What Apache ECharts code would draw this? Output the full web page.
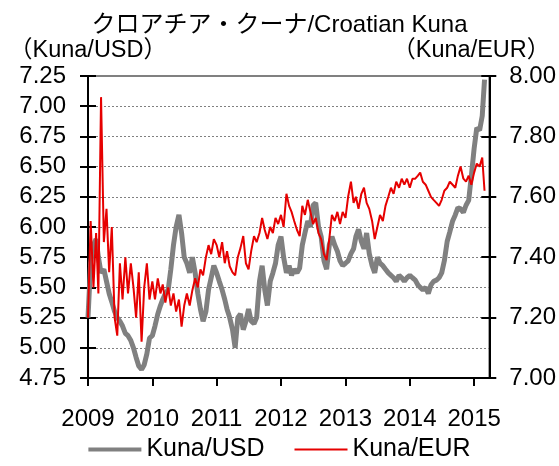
<!DOCTYPE html>
<html>
<head>
<meta charset="utf-8">
<script src="https://cdn.jsdelivr.net/npm/echarts@6/dist/echarts.min.js"></script>
<style>
  html, body { margin: 0; padding: 0; background: #fff; }
  #chart { width: 559px; height: 466px; }
</style>
</head>
<body>
<div id="chart"></div>
<script>
// half-monthly readings (1st and 16th of each month), Jan 2009 - Mar 2015
const kunaUsd = [
  // 2009
  5.25, 5.70, 5.85, 5.90, 5.75, 5.62, 5.65, 5.55, 5.45, 5.38, 5.30, 5.25,
  5.22, 5.18, 5.12, 5.10, 5.06, 5.00, 4.92, 4.85, 4.82, 4.86, 4.95, 5.08,
  // 2010
  5.10, 5.18, 5.28, 5.35, 5.40, 5.45, 5.48, 5.65, 5.85, 6.00, 6.10, 5.95,
  5.75, 5.70, 5.62, 5.75, 5.62, 5.45, 5.32, 5.22, 5.30, 5.48, 5.58, 5.68,
  // 2011
  5.62, 5.55, 5.48, 5.40, 5.32, 5.25, 5.15, 5.00, 5.25, 5.28, 5.15, 5.22,
  5.32, 5.22, 5.20, 5.25, 5.55, 5.68, 5.48, 5.35, 5.55, 5.62, 5.70, 5.85,
  // 2012
  5.92, 5.75, 5.62, 5.68, 5.60, 5.65, 5.62, 5.66, 5.85, 5.95, 6.05, 6.00,
  6.18, 6.20, 6.00, 5.92, 5.72, 5.65, 5.85, 5.92, 5.85, 5.80, 5.72, 5.68,
  // 2013
  5.70, 5.72, 5.78, 5.82, 5.92, 5.98, 5.88, 5.82, 5.95, 5.78, 5.68, 5.62,
  5.75, 5.70, 5.68, 5.65, 5.62, 5.60, 5.58, 5.55, 5.60, 5.58, 5.55, 5.58,
  // 2014
  5.60, 5.58, 5.56, 5.52, 5.50, 5.48, 5.50, 5.45, 5.52, 5.55, 5.56, 5.58,
  5.62, 5.72, 5.88, 5.96, 6.05, 6.10, 6.16, 6.15, 6.12, 6.18, 6.22, 6.42,
  // 2015
  6.65, 6.82, 6.80, 6.92, 7.22
];

const kunaEur = [
  // 2009
  7.20, 7.52, 7.30, 7.48, 7.28, 7.93, 7.45, 7.56, 7.35, 7.50, 7.20, 7.14,
  7.38, 7.26, 7.40, 7.28, 7.38, 7.30, 7.20, 7.35, 7.12, 7.30, 7.38, 7.26,
  // 2010
  7.32, 7.26, 7.33, 7.28, 7.31, 7.25, 7.30, 7.24, 7.28, 7.22, 7.26, 7.17,
  7.24, 7.28, 7.24, 7.29, 7.33, 7.30, 7.36, 7.34, 7.40, 7.44, 7.41, 7.46,
  // 2011
  7.44, 7.40, 7.45, 7.38, 7.42, 7.37, 7.35, 7.34, 7.40, 7.43, 7.47, 7.38,
  7.36, 7.42, 7.47, 7.45, 7.48, 7.53, 7.49, 7.46, 7.50, 7.48, 7.53, 7.51,
  // 2012
  7.54, 7.50, 7.61, 7.57, 7.55, 7.52, 7.49, 7.47, 7.57, 7.54, 7.59, 7.55,
  7.51, 7.53, 7.48, 7.46, 7.41, 7.39, 7.46, 7.54, 7.52, 7.55, 7.51, 7.55,
  // 2013
  7.53, 7.60, 7.65, 7.58, 7.60, 7.56, 7.61, 7.63, 7.58, 7.56, 7.52, 7.46,
  7.50, 7.54, 7.52, 7.57, 7.60, 7.63, 7.61, 7.65, 7.63, 7.66, 7.64, 7.66,
  // 2014
  7.63, 7.66, 7.66, 7.67, 7.68, 7.65, 7.64, 7.62, 7.60, 7.59, 7.58, 7.57,
  7.59, 7.62, 7.63, 7.65, 7.64, 7.63, 7.67, 7.70, 7.66, 7.65, 7.67, 7.64,
  // 2015
  7.68, 7.71, 7.70, 7.73, 7.62
];

const seriesNames = ['Kuna/USD', 'Kuna/EUR'];
const titleText = 'クロアチア・クーナ/Croatian Kuna';

// sample dates: 1st and 16th of every month from Jan 2009
function sampleDates(n) {
  const out = [];
  for (let i = 0; i < n; i++) {
    const y = 2009 + Math.floor(i / 24);
    const m = Math.floor((i % 24) / 2) + 1;
    const d = i % 2 ? 16 : 1;
    out.push(y + '-' + String(m).padStart(2, '0') + '-' + String(d).padStart(2, '0'));
  }
  return out;
}
const dates = sampleDates(kunaUsd.length);

const FONT = "'Liberation Sans', 'Noto Sans CJK JP', sans-serif";
const GREY = '#808080';
const RED = '#e60000';

const chart = echarts.init(document.getElementById('chart'));
chart.setOption({
  animation: false,
  textStyle: { fontFamily: FONT, color: '#000' },
  title: {
    text: titleText,
    left: 'center',
    top: 8,
    textStyle: { fontFamily: FONT, fontSize: 24, fontWeight: 'normal', color: '#000' }
  },
  legend: {
    top: 432,
    left: 'center',
    itemWidth: 53,
    itemHeight: 4,
    itemGap: 30,
    textStyle: { fontFamily: FONT, fontSize: 25, color: '#000' },
    data: [
      { name: seriesNames[0], icon: 'rect', itemStyle: { color: GREY } },
      // thin red bar centred in the same 53x4 box
      { name: seriesNames[1], icon: 'path://M0,0h0.01v4h-0.01zM0,1h53v2h-53z', itemStyle: { color: RED } }
    ]
  },
  grid: {
    left: 88, right: 68, top: 76, bottom: 88,
    show: true, borderColor: GREY, borderWidth: 2
  },
  xAxis: {
    type: 'time',
    min: '2009-01-01',
    max: '2015-03-28',
    minInterval: 360 * 24 * 3600 * 1000,
    splitNumber: 6,
    axisLine: { lineStyle: { color: '#000', width: 2 } },
    axisTick: { show: true, length: 8, lineStyle: { color: '#000', width: 2 } },
    axisLabel: {
      fontSize: 24, color: '#000', margin: 29, fontFamily: FONT,
      formatter: function (v) {
        const d = new Date(v);
        return d.getMonth() === 0 && d.getDate() === 1 ? String(d.getFullYear()) : '';
      }
    },
    splitLine: { show: false }
  },
  yAxis: [
    {
      type: 'value', position: 'left', min: 4.75, max: 7.25, interval: 0.25,
      name: '（Kuna/USD）', nameLocation: 'end', nameGap: 14,
      nameTextStyle: { fontFamily: FONT, fontSize: 23.5, color: '#000', align: 'center' },
      axisLine: { show: true, lineStyle: { color: '#000', width: 2 } },
      axisTick: { show: true, length: 8, lineStyle: { color: '#000', width: 2 } },
      axisLabel: { fontSize: 24, color: '#000', margin: 22, formatter: v => v.toFixed(2) },
      splitLine: { show: true, lineStyle: { color: GREY, width: 1, type: [2, 2] } }
    },
    {
      type: 'value', position: 'right', min: 7.0, max: 8.0, interval: 0.2,
      name: '（Kuna/EUR）', nameLocation: 'end', nameGap: 14,
      nameTextStyle: { fontFamily: FONT, fontSize: 23.5, color: '#000', align: 'center', padding: [0, 36, 0, 0] },
      axisLine: { show: true, lineStyle: { color: '#000', width: 2 } },
      axisTick: { show: true, length: 7, lineStyle: { color: '#000', width: 2 } },
      axisLabel: { fontSize: 24, color: '#000', margin: 20, formatter: v => v.toFixed(2) },
      splitLine: { show: false }
    },
    {
      // inner half of the left ticks
      type: 'value', position: 'left', min: 4.75, max: 7.25, interval: 0.25,
      axisLine: { show: false },
      axisTick: { show: true, inside: true, length: 8, lineStyle: { color: '#000', width: 2 } },
      axisLabel: { show: false },
      splitLine: { show: false }
    },
    {
      // inner half of the right ticks
      type: 'value', position: 'right', min: 7.0, max: 8.0, interval: 0.2,
      axisLine: { show: false },
      axisTick: { show: true, inside: true, length: 8, lineStyle: { color: '#000', width: 2 } },
      axisLabel: { show: false },
      splitLine: { show: false }
    }
  ],
  series: [
    {
      name: seriesNames[0],
      type: 'line',
      yAxisIndex: 0,
      symbol: 'none',
      z: 2,
      itemStyle: { color: GREY },
      lineStyle: { color: GREY, width: 5 },
      data: dates.map((d, i) => [d, kunaUsd[i]])
    },
    {
      name: seriesNames[1],
      type: 'line',
      yAxisIndex: 1,
      symbol: 'none',
      z: 3,
      itemStyle: { color: RED },
      lineStyle: { color: RED, width: 2 },
      data: dates.map((d, i) => [d, kunaEur[i]])
    }
  ]
});
</script>
</body>
</html>
